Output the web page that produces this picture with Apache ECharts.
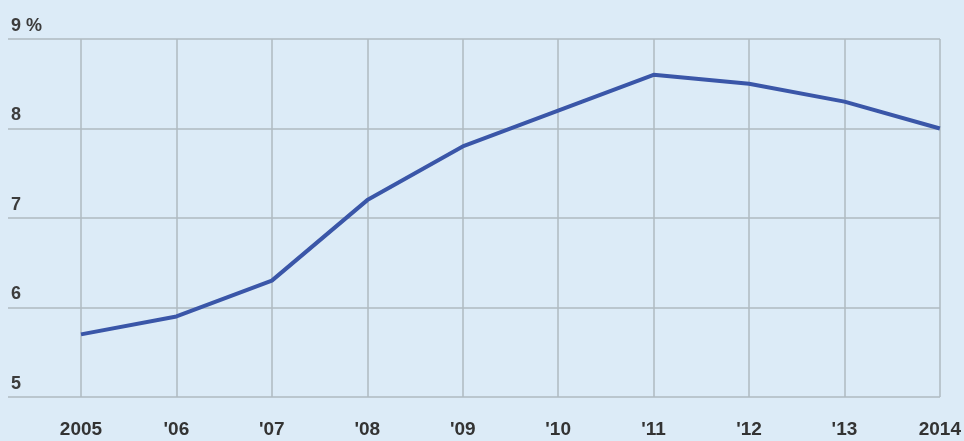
<!DOCTYPE html>
<html><head><meta charset="utf-8">
<script src="https://cdn.jsdelivr.net/npm/echarts@6/dist/echarts.min.js"></script>
<style>html,body{margin:0;padding:0;background:#dcebf7}#c{width:964px;height:441px}</style>
</head><body><div id="c"></div>
<script>
const categories = ['2005', "'06", "'07", "'08", "'09", "'10", "'11", "'12", "'13", '2014'];
const values = [5.7, 5.9, 6.3, 7.2, 7.8, 8.2, 8.6, 8.5, 8.3, 8.0];
const yTicks = [5, 6, 7, 8, 9];

const chart = echarts.init(document.getElementById('c'));
const gridColor = '#afbac0';
chart.setOption({
  backgroundColor: '#dcebf7',
  animation: false,
  grid: [
    {left: 8, right: 24, top: 39, bottom: 44},
    {left: 81, right: 24, top: 39, bottom: 44}
  ],
  xAxis: [
    {gridIndex: 0, type: 'value', min: 0, max: 1, show: false},
    {gridIndex: 1, type: 'category', data: categories, boundaryGap: false,
     axisLine: {show: false}, axisTick: {show: false},
     splitLine: {show: true, lineStyle: {color: gridColor, width: 1.5}},
     axisLabel: {color: '#333', fontSize: 19, fontWeight: 'bold', fontFamily: 'Liberation Sans, Arial, sans-serif', margin: 23}}
  ],
  yAxis: [
    {gridIndex: 0, type: 'value', min: yTicks[0], max: yTicks[yTicks.length-1], interval: 1,
     axisLine: {show: false}, axisTick: {show: false},
     splitLine: {show: true, lineStyle: {color: gridColor, width: 1.5}},
     axisLabel: {inside: true, align: 'left', verticalAlign: 'bottom', margin: 3,
       padding: [0, 0, 4, 0],
       color: '#3c3c3c', fontSize: 18, fontWeight: 'bold', fontFamily: 'Liberation Sans, Arial, sans-serif',
       formatter: v => v === 9 ? '9 %' : String(v)}},
    {gridIndex: 1, type: 'value', min: yTicks[0], max: yTicks[yTicks.length-1], interval: 1, show: false}
  ],
  series: [{
    type: 'line', xAxisIndex: 1, yAxisIndex: 1, data: values,
    symbol: 'none', lineStyle: {color: '#3a56a8', width: 4}
  }]
});
</script></body></html>
